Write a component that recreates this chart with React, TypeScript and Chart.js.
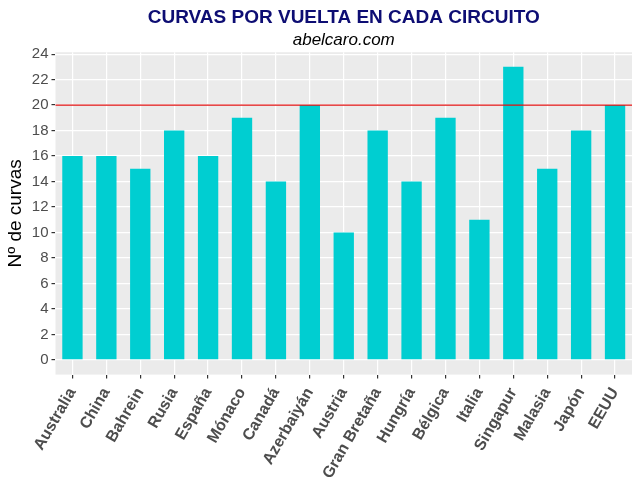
import { useEffect, useRef } from 'react'
import Chart from 'chart.js/auto'

const circuits = [
  'Australia', 'China', 'Bahrein', 'Rusia', 'España', 'Mónaco', 'Canadá',
  'Azerbaiyán', 'Austria', 'Gran Bretaña', 'Hungría', 'Bélgica', 'Italia',
  'Singapur', 'Malasia', 'Japón', 'EEUU',
]
const curvas = [16, 16, 15, 18, 16, 19, 14, 20, 10, 18, 14, 19, 11, 23, 15, 18, 20]
const yTicks = [0, 1, 2, 3, 4, 5, 6, 7, 8, 9, 10, 11, 12, 13, 14, 15, 16, 17, 18, 19, 20, 21, 22, 23, 24]
const refLine = 20

const panelPlugin = {
  id: 'panel',
  beforeDraw(chart: Chart) {
    const { ctx, chartArea } = chart
    ctx.save()
    ctx.fillStyle = '#ebebeb'
    ctx.fillRect(chartArea.left, chartArea.top, chartArea.width, chartArea.height)
    ctx.restore()
  },
  afterDatasetsDraw(chart: Chart) {
    const { ctx, chartArea } = chart
    const y = chart.scales.y.getPixelForValue(refLine)
    ctx.save()
    ctx.strokeStyle = '#e01010'
    ctx.lineWidth = 1.2
    ctx.beginPath()
    ctx.moveTo(chartArea.left, y)
    ctx.lineTo(chartArea.right, y)
    ctx.stroke()
    ctx.restore()
  },
}

function App() {
  const canvasRef = useRef<HTMLCanvasElement | null>(null)

  useEffect(() => {
    document.body.style.margin = '0'
    if (!canvasRef.current) return undefined

    const chart = new Chart(canvasRef.current, {
      type: 'bar',
      data: {
        labels: circuits,
        datasets: [
          {
            label: 'Curvas',
            data: curvas,
            backgroundColor: '#00ced1',
            barPercentage: 0.6,
            categoryPercentage: 1,
          },
        ],
      },
      plugins: [panelPlugin],
      options: {
        animation: false,
        responsive: true,
        maintainAspectRatio: false,
        layout: { padding: { left: 4, right: 8, top: 4, bottom: -11 } },
        plugins: {
          legend: { display: false },
          tooltip: { enabled: false },
          title: {
            display: true,
            text: 'CURVAS POR VUELTA EN CADA CIRCUITO',
            color: '#0d0d73',
            fullSize: false,
            font: { family: 'Liberation Sans', size: 19, weight: 'bold' },
            padding: { top: 2, bottom: 1 },
          },
          subtitle: {
            display: true,
            text: 'abelcaro.com',
            color: '#000000',
            fullSize: false,
            font: { family: 'Liberation Sans', size: 17, style: 'italic' },
            padding: { top: 0, bottom: 2 },
          },
        },
        scales: {
          x: {
            border: { display: false },
            grid: {
              offset: false,
              color: '#ffffff',
              lineWidth: 1.2,
              tickColor: '#333333',
              tickLength: 4,
            },
            ticks: {
              color: '#4d4d4d',
              maxRotation: 60,
              minRotation: 60,
              autoSkip: false,
              padding: 6,
              font: { family: 'Liberation Sans', size: 16, weight: 'bold' },
            },
          },
          y: {
            min: -1.15,
            max: 24.15,
            border: { display: false },
            afterBuildTicks: (axis) => {
              axis.ticks = yTicks.map((value) => ({ value }))
            },
            grid: {
              color: '#ffffff',
              lineWidth: (context) => (Number(context.tick?.value) % 2 === 0 ? 1.2 : 0.5),
              tickColor: (context) =>
                Number(context.tick?.value) % 2 === 0 ? '#333333' : 'rgba(0,0,0,0)',
              tickLength: 4,
            },
            ticks: {
              color: '#4d4d4d',
              padding: 3,
              font: { family: 'Liberation Sans', size: 15 },
              callback: (value) => (Number(value) % 2 === 0 ? String(value) : ''),
            },
            title: {
              display: true,
              text: 'Nº de curvas',
              color: '#000000',
              font: { family: 'Liberation Sans', size: 19 },
              padding: { top: 0, bottom: 2 },
            },
          },
        },
      },
    })

    return () => {
      chart.destroy()
    }
  }, [])

  return (
    <div style={{ width: 640, height: 477, background: '#ffffff' }}>
      <canvas ref={canvasRef} />
    </div>
  )
}

export default App
